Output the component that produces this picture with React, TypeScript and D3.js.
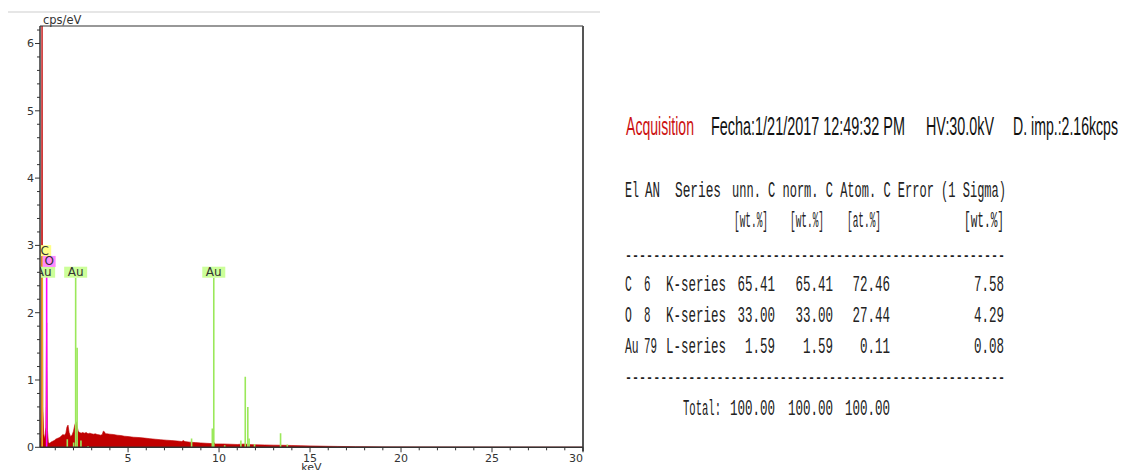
import React from 'react';
import * as d3 from 'd3';

// ---------- spectrum (energy in keV, intensity in cps/eV) ----------
const spectrumKeV = [
  0.16, 0.2, 0.23, 0.25, 0.26, 0.285, 0.3, 0.32, 0.36, 0.42, 0.48, 0.505, 0.525, 0.545, 0.57,
  0.62, 0.7, 0.78, 0.86, 0.94, 1.02, 1.1, 1.18, 1.26, 1.34, 1.42, 1.5, 1.58, 1.64, 1.7, 1.76,
  1.84, 1.92, 2.0, 2.07, 2.14, 2.2, 2.26, 2.34, 2.42, 2.5, 2.6, 2.7, 2.8, 2.9, 3.0, 3.1, 3.2,
  3.3, 3.4, 3.5, 3.58, 3.64, 3.7, 3.76, 3.85, 4.0, 4.2, 4.4, 4.6, 4.8, 5.0, 5.3, 5.6, 5.9,
  6.2, 6.5, 6.8, 7.1, 7.4, 7.7, 7.95, 8.04, 8.12, 8.4, 8.7, 9.0, 9.3, 9.6, 9.7, 9.8, 10.2,
  10.6, 11.0, 11.44, 11.6, 12.0, 12.5, 13.0, 13.5, 14.0, 14.5, 15.0, 15.5, 16.0, 16.5, 17.0,
  17.5, 18.0, 19.0, 20.0, 21.0, 23.0, 25.0, 27.0, 30.0,
];
const spectrumCps = [
  0.08, 0.15, 0.6, 4.0, 7.0, 7.0, 2.5, 0.6, 0.2, 0.12, 0.3, 1.2, 1.85, 1.2, 0.25,
  0.07, 0.06, 0.08, 0.09, 0.1, 0.12, 0.13, 0.14, 0.15, 0.17, 0.19, 0.18, 0.21, 0.3, 0.33, 0.22,
  0.16, 0.18, 0.24, 0.33, 0.38, 0.31, 0.24, 0.22, 0.21, 0.22, 0.21, 0.22, 0.2, 0.21, 0.2, 0.195, 0.2,
  0.19, 0.185, 0.18, 0.19, 0.24, 0.23, 0.2, 0.2, 0.195, 0.19, 0.18, 0.175, 0.165, 0.16, 0.15, 0.145, 0.137,
  0.128, 0.12, 0.112, 0.106, 0.1, 0.093, 0.086, 0.1, 0.085, 0.076, 0.07, 0.065, 0.06, 0.055, 0.075, 0.05, 0.05,
  0.046, 0.042, 0.05, 0.04, 0.038, 0.035, 0.032, 0.03, 0.027, 0.024, 0.021, 0.018, 0.015, 0.013, 0.011,
  0.009, 0.008, 0.006, 0.005, 0.004, 0.003, 0.002, 0.0015, 0.001,
];

// ---------- element marker lines ----------
const markerElement = ['Au', 'Au', 'Au', 'Au', 'Au', 'Au', 'Au', 'Au', 'Au', 'Au', 'Au', 'Au', 'Au', 'Au', 'Au', 'Au', 'Au', 'C', 'O'];
const markerKeV = [1.66, 2.01, 2.12, 2.2, 2.41, 2.8, 8.49, 9.63, 9.71, 10.31, 11.2, 11.44, 11.58, 11.65, 11.95, 13.38, 13.75, 0.28, 0.525];
const markerCps = [0.12, 0.07, 2.52, 1.48, 0.1, 0.02, 0.13, 0.28, 2.52, 0.03, 0.1, 1.05, 0.6, 0.13, 0.05, 0.21, 0.04, 2.84, 2.68];

// ---------- element labels ----------
const labelElement = ['Au', 'C', 'O', 'Au', 'Au'];
const labelKeV = [0.36, 0.28, 0.525, 2.12, 9.71];
const labelCps = [2.52, 2.84, 2.68, 2.52, 2.52];

// ---------- axes ----------
const xMajorTicks = [5, 10, 15, 20, 25, 30];
const yMajorTicks = [0, 1, 2, 3, 4, 5, 6];

// ---------- acquisition info ----------
const infoTitle = 'Acquisition';
const infoDate = 'Fecha:1/21/2017 12:49:32 PM';
const infoHV = 'HV:30.0kV';
const infoRate = 'D. imp.:2.16kcps';

// ---------- quantification table ----------
const headerCells = ['El', 'AN', 'Series', 'unn. C norm. C Atom. C Error (1 Sigma)'];
const unitCells = ['[wt.%]', '[wt.%]', '[at.%]', '[wt.%]'];
const tableEl = ['C', 'O', 'Au'];
const tableAN = ['6', '8', '79'];
const tableSeries = ['K-series', 'K-series', 'L-series'];
const tableUnn = ['65.41', '33.00', '1.59'];
const tableNorm = ['65.41', '33.00', '1.59'];
const tableAtom = ['72.46', '27.44', '0.11'];
const tableErr = ['7.58', '4.29', '0.08'];
const totalLabel = 'Total:';
const totalValues = ['100.00', '100.00', '100.00'];

const elementStyle: Record<string, { line: string; bg: string }> = {
  C: { line: '#e8b020', bg: '#ffff88' },
  O: { line: '#ff00ff', bg: '#ff88ff' },
  Au: { line: '#9be85a', bg: '#ccff99' },
};

export default function App() {
  const plot = { left: 40, right: 583, top: 26, bottom: 447.3 };
  const x = d3.scaleLinear().domain([0.16, 30]).range([plot.left, plot.right]);
  const y = d3.scaleLinear().domain([0, 6.26]).range([plot.bottom, plot.top]);

  const area = d3
    .area<number>()
    .x((_, i) => x(spectrumKeV[i]))
    .y0(y(0))
    .y1((d) => y(d));

  const minorX = d3.range(1, 31).filter((v) => v % 5 !== 0);
  const minorY = d3.range(0, 6.21, 0.2).filter((v) => Math.abs(v - Math.round(v)) > 1e-6);

  const axisFont = '"DejaVu Sans", Verdana, sans-serif';
  const mono = '"Liberation Mono", "DejaVu Sans Mono", monospace';
  const cw = 7.5; // char width for table numbers

  const rowBase = [291, 322, 353];
  const colEl = 625, colAN = 644, colSeries = 666;
  const numEnds = [775, 833, 890, 1004];
  const unitStarts = [734, 790, 847, 964];

  return (
    <svg
      width={1121}
      height={470}
      style={{ position: 'absolute', left: 0, top: 0, background: '#fff' }}
      xmlns="http://www.w3.org/2000/svg"
    >
      <defs>
        <clipPath id="plotClip">
          <rect x={plot.left} y={plot.top} width={plot.right - plot.left} height={plot.bottom - plot.top} />
        </clipPath>
      </defs>
      <rect x={0} y={0} width={1121} height={470} fill="#fff" />
      <line x1={8} x2={600} y1={12} y2={12} stroke="#e6e6e6" strokeWidth={2} />

      {/* spectrum */}
      <g clipPath="url(#plotClip)">
        <path d={area(spectrumCps) || ''} fill="#c00000" stroke="#c00000" strokeWidth={0.6} />
        {markerKeV.map((e, i) => (
          <line
            key={'m' + i}
            x1={x(e)}
            x2={x(e)}
            y1={y(0)}
            y2={y(markerCps[i])}
            stroke={elementStyle[markerElement[i]].line}
            strokeWidth={1.6}
          />
        ))}
        {labelKeV.map((e, i) => {
          const el = labelElement[i];
          const w = el.length === 2 ? 23 : 13;
          const shift = el.length === 1 ? 2.5 : 0;
          const cx = x(e) + shift;
          const top = y(labelCps[i]) - 11;
          return (
            <g key={'l' + i}>
              <rect x={cx - w / 2} y={top} width={w} height={11} fill={elementStyle[el].bg} />
              <text x={cx} y={top + 9.5} textAnchor="middle" fontFamily={axisFont} fontSize={12} fill="#333">
                {el}
              </text>
            </g>
          );
        })}
      </g>

      {/* frame */}
      <line x1={plot.left} x2={plot.right} y1={plot.top} y2={plot.top} stroke="#333" strokeWidth={1.2} />
      <line x1={plot.right} x2={plot.right} y1={plot.top} y2={plot.bottom + 4} stroke="#555" strokeWidth={2} />
      <line x1={plot.left} x2={plot.left} y1={plot.top} y2={plot.bottom} stroke="#333" strokeWidth={1.5} />
      <line x1={plot.left} x2={plot.right} y1={plot.bottom} y2={plot.bottom} stroke="#333" strokeWidth={1.5} />

      {/* y ticks */}
      {yMajorTicks.map((t) => (
        <g key={'yt' + t}>
          <line x1={plot.left - 5} x2={plot.left} y1={y(t)} y2={y(t)} stroke="#333" strokeWidth={1} />
          <text x={34} y={y(t) + 4} textAnchor="end" fontFamily={axisFont} fontSize={11} fill="#333">
            {t}
          </text>
        </g>
      ))}
      {minorY.map((t) => (
        <line key={'ym' + t} x1={plot.left - 3} x2={plot.left} y1={y(t)} y2={y(t)} stroke="#333" strokeWidth={1} />
      ))}
      <text x={43} y={24} fontFamily={axisFont} fontSize={11.5} fill="#333">
        cps/eV
      </text>

      {/* x ticks */}
      {xMajorTicks.map((t) => (
        <g key={'xt' + t}>
          <line x1={x(t)} x2={x(t)} y1={plot.bottom} y2={plot.bottom + 5} stroke="#333" strokeWidth={1} />
          <text
            x={t === 30 ? plot.right : x(t)}
            y={461.5}
            textAnchor={t === 30 ? 'end' : 'middle'}
            fontFamily={axisFont}
            fontSize={11}
            fill="#333"
          >
            {t}
          </text>
        </g>
      ))}
      {minorX.map((t) => (
        <line key={'xm' + t} x1={x(t)} x2={x(t)} y1={plot.bottom} y2={plot.bottom + 3} stroke="#333" strokeWidth={1} />
      ))}
      <text x={(plot.left + plot.right) / 2} y={471} textAnchor="middle" fontFamily={axisFont} fontSize={11} fill="#333">
        keV
      </text>

      {/* acquisition info */}
      <g fontFamily='"Liberation Sans", Arial, sans-serif' fontSize={25}>
        <text x={626} y={135} fill="#cc1111" textLength={68} lengthAdjust="spacingAndGlyphs">
          {infoTitle}
        </text>
        <text x={711} y={135} fill="#111" textLength={194} lengthAdjust="spacingAndGlyphs">
          {infoDate}
        </text>
        <text x={926} y={135} fill="#111" textLength={68} lengthAdjust="spacingAndGlyphs">
          {infoHV}
        </text>
        <text x={1013} y={135} fill="#111" textLength={105} lengthAdjust="spacingAndGlyphs">
          {infoRate}
        </text>
      </g>

      {/* table */}
      <g fontFamily={mono} fontSize={22} fill="#222">
        <text x={625} y={197} textLength={14} lengthAdjust="spacingAndGlyphs">{headerCells[0]}</text>
        <text x={645} y={197} textLength={15} lengthAdjust="spacingAndGlyphs">{headerCells[1]}</text>
        <text x={675} y={197} textLength={46} lengthAdjust="spacingAndGlyphs">{headerCells[2]}</text>
        <text x={732} y={197} textLength={274} lengthAdjust="spacingAndGlyphs">{headerCells[3]}</text>
        {unitCells.map((u, i) => (
          <text key={'u' + i} x={unitStarts[i]} y={227} textLength={i === 3 ? 40 : 34} lengthAdjust="spacingAndGlyphs">
            {u}
          </text>
        ))}
        <text x={625} y={262} textLength={380} lengthAdjust="spacingAndGlyphs">
          {'-'.repeat(54)}
        </text>
        {tableEl.map((el, r) => {
          const vals = [tableUnn[r], tableNorm[r], tableAtom[r], tableErr[r]];
          return (
            <g key={'r' + r}>
              <text x={colEl} y={rowBase[r]} textLength={el.length * 6.8} lengthAdjust="spacingAndGlyphs">{el}</text>
              <text x={colAN} y={rowBase[r]} textLength={tableAN[r].length * 6.5} lengthAdjust="spacingAndGlyphs">{tableAN[r]}</text>
              <text x={colSeries} y={rowBase[r]} textLength={60} lengthAdjust="spacingAndGlyphs">{tableSeries[r]}</text>
              {vals.map((v, c) => (
                <text
                  key={c}
                  x={numEnds[c] - v.length * cw}
                  y={rowBase[r]}
                  textLength={v.length * cw}
                  lengthAdjust="spacingAndGlyphs"
                >
                  {v}
                </text>
              ))}
            </g>
          );
        })}
        <text x={625} y={384} textLength={380} lengthAdjust="spacingAndGlyphs">
          {'-'.repeat(54)}
        </text>
        <text x={683} y={415} textLength={38} lengthAdjust="spacingAndGlyphs">{totalLabel}</text>
        {totalValues.map((v, c) => (
          <text key={'t' + c} x={numEnds[c] - v.length * cw} y={415} textLength={v.length * cw} lengthAdjust="spacingAndGlyphs">
            {v}
          </text>
        ))}
      </g>
    </svg>
  );
}
